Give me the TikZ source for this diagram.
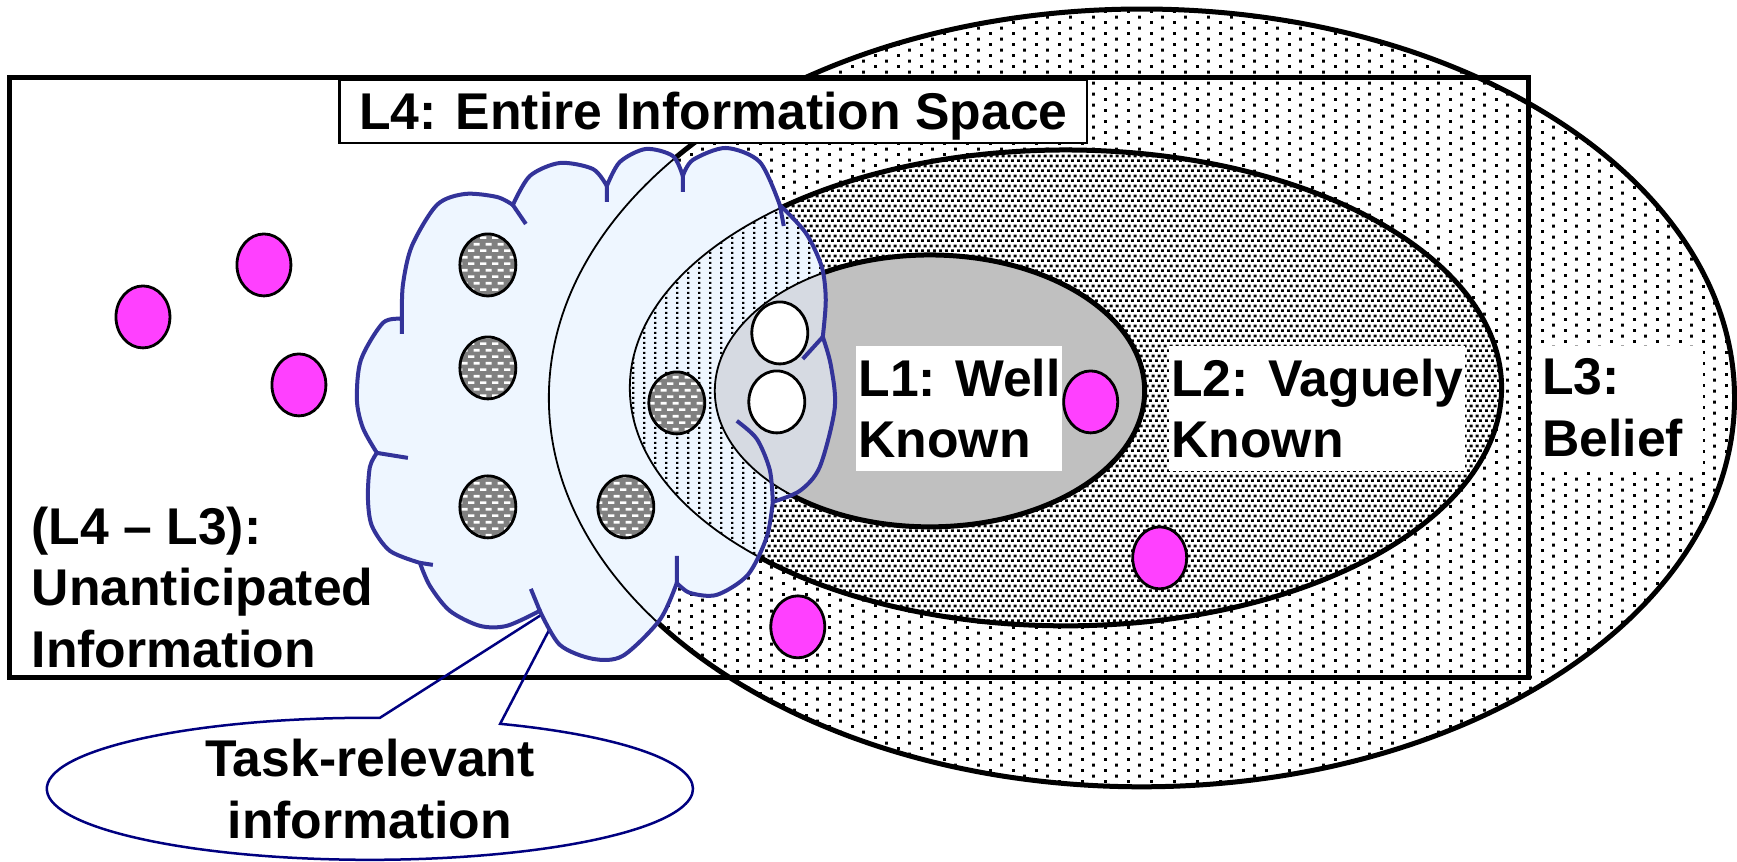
\documentclass[tikz,border=0pt]{standalone}
\usepackage{fontspec}
\setmainfont{Liberation Sans}
\usetikzlibrary{shapes.callouts, shapes.geometric, patterns.meta}

\definecolor{CloudColor}{RGB}{238,246,255}
\definecolor{CloudEdge}{RGB}{51,51,153}
\definecolor{KnownGray}{RGB}{192,192,192}
\definecolor{OverlapGray}{RGB}{214,218,226}
\definecolor{SpotGray}{RGB}{128,128,128}
\definecolor{InfoMagenta}{RGB}{255,64,255}
\definecolor{CalloutColor}{RGB}{0,0,128}

% dot fills of the belief rings
\tikzdeclarepattern{name=beliefdots, type=uncolored,
  bottom left={(0cm,0cm)}, top right={(0.23cm,0.114cm)}, tile size={(0.23cm,0.114cm)},
  code={\pgfpathrectangle{\pgfpoint{0cm}{0cm}}{\pgfpoint{0.03cm}{0.03cm}}
        \pgfpathrectangle{\pgfpoint{0.115cm}{0.057cm}}{\pgfpoint{0.03cm}{0.03cm}}
        \pgfusepath{fill}}}
\tikzdeclarepattern{name=vaguedots, type=uncolored,
  bottom left={(0cm,0cm)}, top right={(0.057cm,0.1cm)}, tile size={(0.057cm,0.1cm)},
  code={\pgfpathrectangle{\pgfpoint{0cm}{0cm}}{\pgfpoint{0.03cm}{0.03cm}}
        \pgfpathrectangle{\pgfpoint{0.0285cm}{0.05cm}}{\pgfpoint{0.03cm}{0.03cm}}
        \pgfusepath{fill}}}
\tikzdeclarepattern{name=cloudlines, type=uncolored,
  bottom left={(0cm,0cm)}, top right={(0.113cm,0.053cm)}, tile size={(0.113cm,0.053cm)},
  code={\pgfpathrectangle{\pgfpoint{0cm}{0cm}}{\pgfpoint{0.025cm}{0.025cm}}
        \pgfusepath{fill}}}
\tikzdeclarepattern{name=graydash, type=uncolored,
  bottom left={(0cm,0cm)}, top right={(0.117cm,0.133cm)}, tile size={(0.117cm,0.133cm)},
  code={\pgfpathrectangle{\pgfpoint{0cm}{0cm}}{\pgfpoint{0.065cm}{0.028cm}}
        \pgfpathrectangle{\pgfpoint{0.058cm}{0.067cm}}{\pgfpoint{0.059cm}{0.028cm}}
        \pgfusepath{fill}}}

\tikzstyle{ring} = [line width=0.05cm]
\tikzstyle{faint} = [line width=0.018cm]
\tikzstyle{spot} = [draw, line width=0.028cm]
\tikzstyle{cloudedge} = [draw=CloudEdge, line width=0.04cm]
\tikzstyle{lvltext} = [font=\bfseries\fontsize{14.7}{17.6}\selectfont, align=left]
\tikzstyle{levelbox} = [lvltext, fill=white, anchor=north west, inner xsep=0.02cm, inner ysep=0.13cm]

\newcommand{\cloudpath}{plot[smooth] coordinates {(402,319) (403,285) (412,246) (437,205) (465,194) (497,197) (513,205)}
  -- plot[smooth] coordinates {(513,205) (530,176) (560,163) (593,169) (607,186)}
  -- plot[smooth] coordinates {(607,186) (620,162) (646,149) (673,156) (683,176)}
  -- plot[smooth] coordinates {(683,176) (693,160) (726,148) (760,162) (780,205)}
  -- plot[smooth] coordinates {(780,205) (806,233) (822,267) (826,300) (823,337)}
  -- plot[smooth] coordinates {(823,337) (831,365) (835,408) (820,467) (800,491) (773,502)}
  -- plot[smooth] coordinates {(773,502) (767,537) (748,575) (717,595) (690,593) (677,583)}
  -- plot[smooth] coordinates {(677,583) (660,620) (623,656) (593,659) (560,645) (540,611)}
  -- plot[smooth] coordinates {(540,611) (507,626) (480,626) (450,611) (430,586) (420,563)}
  -- plot[smooth] coordinates {(420,563) (390,551) (372,526) (368,498) (370,467) (377,453)}
  -- plot[smooth] coordinates {(377,453) (363,428) (357,400) (361,360) (383,323) (402,319)}
  -- cycle}

\begin{document}
\begin{tikzpicture}[x=0.01cm, y=-0.01cm]
  \fill[white] (0,0) rectangle (1737,862);

  % L3, L2 and L1 rings
  \draw[ring, preaction={fill=white}, pattern=beliefdots] (1142,398) ellipse (593 and 389);
  \draw[ring, preaction={fill=white}, pattern=vaguedots] (1066,388) ellipse (436 and 238);
  \draw[ring, fill=KnownGray] (930,391) ellipse (215 and 136);

  % L4 frame
  \draw[ring] (10,78) rectangle (1529,678);

  % callout under the cloud
  \node[ellipse callout, draw=CalloutColor, line width=0.025cm, lvltext, align=center,
        minimum width=6.46cm, minimum height=1.42cm, inner sep=0pt,
        callout absolute pointer={(565,600)}, callout pointer arc=22] (task) at (370,789) {Task-relevant\\information};

  % task-relevant cloud
  \fill[CloudColor] \cloudpath;
  \begin{scope}
    \clip \cloudpath;
    \path[pattern=cloudlines] (1066,388) ellipse (436 and 238);
    \fill[OverlapGray] (930,391) ellipse (215 and 136);
    \draw[faint] (1142,398) ellipse (593 and 389);
    \draw[faint] (1066,388) ellipse (436 and 238);
    \draw[faint] (930,391) ellipse (215 and 136);
  \end{scope}
  \draw[cloudedge] \cloudpath;
  \draw[cloudedge] (402,319) -- (402,334) (513,205) -- (526,224) (607,186) -- (607,202)
    (683,176) -- (683,192) (780,205) -- (784,226) (823,337) -- (803,359)
    (677,583) -- (677,556) (540,611) -- (531,589) (420,563) -- (433,565) (377,453) -- (408,458);
  \draw[cloudedge] plot[smooth] coordinates {(773,502) (770,470) (757,439) (737,421)};

  % information items
  \foreach \x/\y in {264/265, 143/317, 299/385, 1091/402, 1160/558, 798/627}
    \draw[spot, fill=InfoMagenta] (\x,\y) ellipse (27 and 31);
  \foreach \x/\y in {488/265, 488/368, 677/403, 488/507, 626/507}
    \draw[spot, preaction={fill=SpotGray}, pattern=graydash, pattern color=white] (\x,\y) ellipse (28 and 31);
  \foreach \x/\y in {780/333, 777/402}
    \draw[spot, fill=white] (\x,\y) ellipse (28 and 31);

  % level labels
  \node[draw, fill=white, line width=0.025cm, lvltext, minimum width=7.47cm, minimum height=0.63cm,
        inner sep=0.02cm, text height=0.48cm, text depth=0.11cm] (l4) at (713.5,111.5) {L4: Entire Information Space};
  \node[levelbox] (l1) at (856,345) {L1: Well\\Known};
  \node[levelbox] (l2) at (1169,345) {L2: Vaguely\\Known};
  \node[levelbox, text width=1.55cm, inner xsep=0.06cm] (l3) at (1536,345) {L3:\\Belief};
  \node[lvltext, anchor=north west, inner sep=0pt] (gap) at (31,506) {(L4 – L3):\\Unanticipated\\Information};
\end{tikzpicture}
\end{document}
